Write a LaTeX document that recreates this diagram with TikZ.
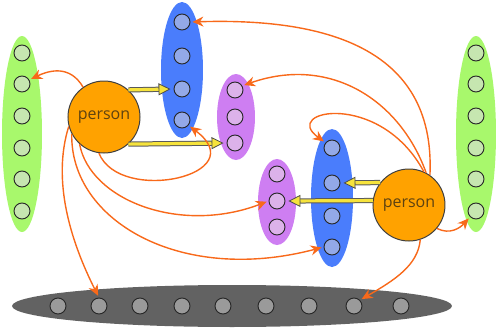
\documentclass[tikz,border=0pt]{standalone}
\usepackage{fontspec}
\setsansfont{Open Sans}
\usepackage{xcolor}
\usetikzlibrary{shapes.geometric, arrows.meta}

\definecolor{grpgreen}{HTML}{A8F86C}
\definecolor{grpblue}{HTML}{4A7DFC}
\definecolor{grppurple}{HTML}{CE7EF2}
\definecolor{grpgray}{HTML}{626262}
\definecolor{unitgreen}{HTML}{C6E6B0}
\definecolor{unitblue}{HTML}{93A9E8}
\definecolor{unitpurple}{HTML}{DCB2EA}
\definecolor{unitgray}{HTML}{9A9A9A}
\definecolor{personfill}{HTML}{FFA200}
\definecolor{persontext}{HTML}{5E4210}
\definecolor{linkorange}{HTML}{F8691A}
\definecolor{pushyellow}{HTML}{F6E33C}

\begin{document}
\begin{tikzpicture}[
    x=0.5pt, y=-0.5pt,
    group/.style={ellipse, draw=none, inner sep=0pt},
    unit/.style={circle, draw=black!85, line width=0.45pt, inner sep=0pt, minimum size=8pt},
    person/.style={circle, draw=black!75, line width=0.5pt, fill=personfill, minimum size=36pt, inner sep=0pt, text=persontext, font=\sffamily\fontsize{8}{9}\selectfont},
    link/.style={-{Stealth[length=5.5pt, width=5pt]}, draw=linkorange, line width=0.7pt, shorten >=1pt},
    push/.style={draw=pushyellow, line width=1.6pt, shorten >=1.5pt,
        -{Triangle[length=6pt, width=6pt, fill=pushyellow, color=black!70, line width=0.4pt]},
        preaction={draw=black!65, line width=2.6pt, -, shorten >=6.5pt}}
]
\useasboundingbox (0,0) rectangle (500,333);

% groups
\node[group, fill=grpgreen, minimum width=20pt, minimum height=98pt] (greenL) at (22,134) {};
\node[group, fill=grpgreen, minimum width=20pt, minimum height=98pt] (greenR) at (476,134) {};
\node[group, fill=grpblue, minimum width=21pt, minimum height=68pt] (blueT) at (182,70) {};
\node[group, fill=grppurple, minimum width=19pt, minimum height=43pt] (purpleT) at (236,117) {};
\node[group, fill=grpblue, minimum width=21pt, minimum height=69pt] (blueB) at (332,198) {};
\node[group, fill=grppurple, minimum width=19pt, minimum height=43pt] (purpleB) at (277,202) {};
\node[group, fill=grpgray, minimum width=220pt, minimum height=21pt] (crowd) at (232,306) {};

% units
\foreach \y [count=\i] in {53,84,116,148,179,211} {
    \node[unit, fill=unitgreen] (gL\i) at (22,\y) {};
    \node[unit, fill=unitgreen] (gR\i) at (476,\y) {};
}
\foreach \y [count=\i] in {22,56,89,120}
    \node[unit, fill=unitblue] (bT\i) at (182,\y) {};
\foreach \y [count=\i] in {90,117,143}
    \node[unit, fill=unitpurple] (pT\i) at (235,\y) {};
\foreach \y [count=\i] in {148,183,216,247}
    \node[unit, fill=unitblue] (bB\i) at (332,\y) {};
\foreach \y [count=\i] in {174,201,227}
    \node[unit, fill=unitpurple] (pB\i) at (277,\y) {};
\foreach \x [count=\i] in {58,99,140,182,223,266,309,354,401}
    \node[unit, fill=unitgray] (c\i) at (\x,306) {};

% persons
\node[person] (personL) at (104,117) {person};
\node[person] (personR) at (409,205) {person};

% pushes
\draw[push] (personL.48.6) -- (bT3.west);
\draw[push] (personL.-48.6) -- (pT3.west);
\draw[push] (personR.142.3) -- (bB2.east);
\draw[push] (personR.173.6) -- (pB2.east);

% links
\draw[link] (personL.125) .. controls (70,65) and (50,70) .. (gL2.30);
\draw[link] (personL.195) .. controls (52,180) and (70,240) .. (c2.north);
\draw[link] (personL.208) .. controls (70,220) and (180,285) .. (bB4.west);
\draw[link] (personL.228) .. controls (90,200) and (180,235) .. (pB2.west);
\draw[link] (personL.262) .. controls (120,205) and (255,175) .. (bT4.-40);
\draw[link] (personR.55) .. controls (436,45) and (320,18) .. (bT1.east);
\draw[link] (personR.62) .. controls (400,100) and (330,55) .. (pT1.30);
\draw[link] (personR.66) .. controls (380,90) and (280,110) .. (bB1.140);
\draw[link] (personR.-40) .. controls (450,235) and (460,228) .. (gR6.225);
\draw[link] (personR.-72) .. controls (418,265) and (395,280) .. (c8.45);
\end{tikzpicture}
\end{document}
